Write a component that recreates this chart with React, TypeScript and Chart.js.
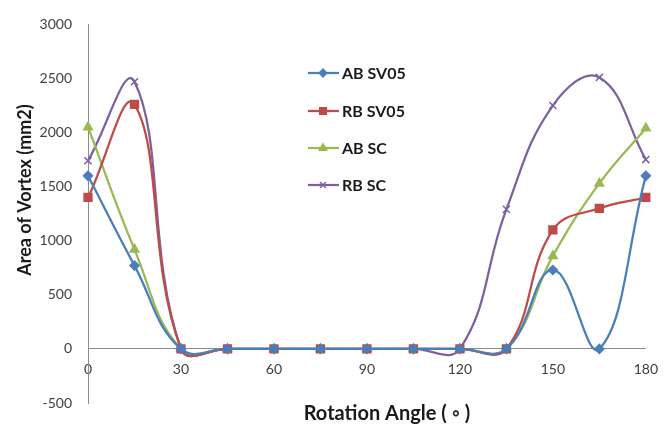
import React, { useEffect, useRef } from "react";
import { Chart, registerables } from "chart.js";
import { drawPoint } from "chart.js/helpers";

Chart.register(...registerables);

const angles = [0, 15, 30, 45, 60, 75, 90, 105, 120, 135, 150, 165, 180];
const abSV05 = [1600, 770, 0, 0, 0, 0, 0, 0, 0, 0, 730, 0, 1600];
const rbSV05 = [1400, 2260, 0, 0, 0, 0, 0, 0, 0, 0, 1100, 1300, 1400];
const abSC = [2050, 920, 0, 0, 0, 0, 0, 0, 0, 0, 860, 1530, 2040];
const rbSC = [1740, 2470, 0, 0, 0, 0, 0, 0, 0, 1290, 2250, 2510, 1750];

const seriesNames = ["AB SV05", "RB SV05", "AB SC", "RB SC"];
const seriesValues = [abSV05, rbSV05, abSC, rbSC];
const seriesColors = ["#4A7EBB", "#BE4B48", "#98B954", "#7D60A0"];
const seriesMarkers = ["rectRot", "rect", "triangle", "crossRot"];
const seriesRadius = [4.5, 5.5, 5, 5];

const xTitle = "Rotation Angle ( \u25E6 )";
const yTitle = "Area of Vortex (mm2)";

export default function App() {
  const ref = useRef<HTMLCanvasElement | null>(null);

  useEffect(() => {
    document.body.style.margin = "0";
    const canvas = ref.current;
    if (!canvas) return;

    const textPlugin = {
      id: "texts",
      afterDraw(chart: any) {
        const ctx = chart.ctx;
        ctx.save();
        ctx.fillStyle = "#1a1a1a";
        ctx.textAlign = "center";
        ctx.textBaseline = "middle";
        ctx.font = "bold 20px Lato";
        ctx.fillText(xTitle, 387, 414);
        ctx.font = "bold 18px Lato";
        ctx.save();
        ctx.translate(25, 190);
        ctx.rotate(-Math.PI / 2);
        ctx.fillText(yTitle, 0, 0);
        ctx.restore();
        const ys = [73, 111, 148, 185];
        ctx.font = "bold 16px Lato";
        ctx.textAlign = "left";
        for (let i = 0; i < seriesNames.length; i++) {
          const y = ys[i];
          ctx.strokeStyle = seriesColors[i];
          ctx.lineWidth = 2.25;
          ctx.beginPath();
          ctx.moveTo(308, y);
          ctx.lineTo(339, y);
          ctx.stroke();
          ctx.fillStyle = seriesColors[i];
          ctx.lineWidth = 1.5;
          drawPoint(
            ctx,
            { pointStyle: seriesMarkers[i], radius: seriesRadius[i] * 0.85, borderWidth: 1.5, rotation: 0 } as any,
            323,
            y
          );
          ctx.fillStyle = "#1a1a1a";
          ctx.fillText(seriesNames[i], 342, y + 1);
        }
        ctx.restore();
      },
    };

    const chart = new Chart(canvas, {
      type: "line",
      data: {
        datasets: seriesNames.map((name, i) => ({
          label: name,
          data: angles.map((a, j) => ({ x: a, y: seriesValues[i][j] })),
          borderColor: seriesColors[i],
          backgroundColor: seriesColors[i],
          borderWidth: 2.25,
          pointStyle: seriesMarkers[i] as any,
          pointRadius: seriesRadius[i],
          pointBorderWidth: 1.5,
          pointBorderColor: seriesColors[i],
          pointBackgroundColor: seriesColors[i],
          tension: 0.42,
          fill: false,
          clip: false as any,
        })),
      },
      options: {
        responsive: false,
        animation: false,
        layout: { padding: { top: 18, bottom: 27, right: 20, left: 0 } },
        plugins: {
          legend: { display: false },
          tooltip: { enabled: false },
        },
        scales: {
          x: {
            type: "linear",
            min: 0,
            max: 180,
            position: { y: 0 } as any,
            ticks: {
              stepSize: 30,
              padding: 12,
              color: "#404040",
              font: { family: "Lato", size: 14 },
              maxRotation: 0,
              callback: (v: any) => String(v),
            },
            grid: { display: true, drawOnChartArea: false, drawTicks: false },
            border: { display: true, color: "#8c8c8c", width: 1 },
            afterFit(scale: any) {
              scale.height = 0;
            },
          },
          y: {
            type: "linear",
            min: -500,
            max: 3000,
            ticks: {
              stepSize: 500,
              padding: 16,
              color: "#404040",
              font: { family: "Lato", size: 14 },
              callback: (v: any) => String(v),
            },
            grid: { display: true, drawOnChartArea: false, drawTicks: false },
            border: { display: true, color: "#8c8c8c", width: 1 },
            afterFit(scale: any) {
              scale.width = 88;
            },
          },
        },
      },
      plugins: [textPlugin],
    });

    return () => chart.destroy();
  }, []);

  return (
    <div style={{ position: "fixed", left: 0, top: 0, width: 670, height: 430, background: "#fff" }}>
      <canvas ref={ref} width={670} height={430} />
    </div>
  );
}
